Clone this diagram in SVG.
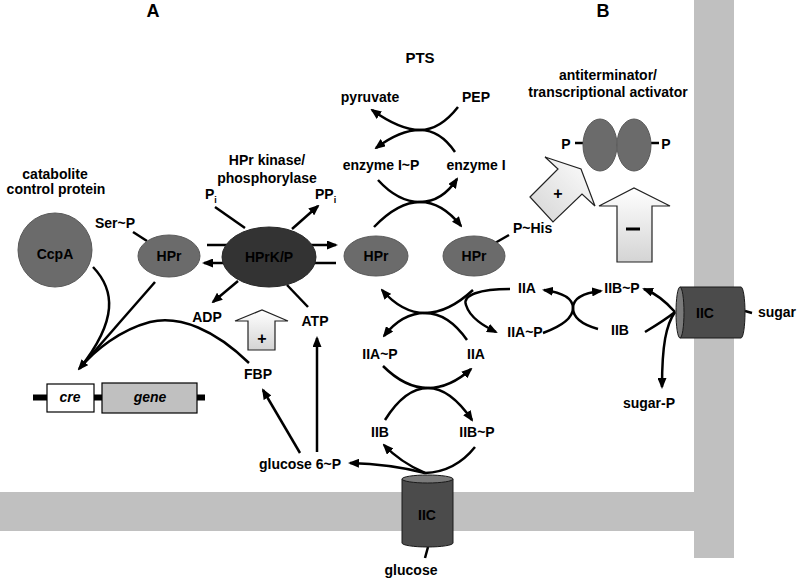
<svg xmlns="http://www.w3.org/2000/svg" width="798" height="581" viewBox="0 0 798 581">
<defs>
<style>
text{font-family:"Liberation Sans",Arial,sans-serif;font-weight:bold;font-size:14px;fill:#000}
.c{text-anchor:middle}
.big{font-size:18px}
.it{font-style:italic}
.ln{fill:none;stroke:#000;stroke-width:2.5}
.ar{marker-end:url(#arr)}
.prot{fill:#6b6b6b;stroke:#5a5a5a;stroke-width:1}
.blk{stroke:#222;stroke-width:1.2}
.cyl{fill:#4b4b4b;stroke:#1a1a1a;stroke-width:1}
.cylend{fill:#7a7a7a;stroke:#1a1a1a;stroke-width:1}
.mem{fill:#c0c0c0}
</style>
<marker id="arr" markerUnits="userSpaceOnUse" markerWidth="11" markerHeight="9" refX="9" refY="4.5" orient="auto">
<path d="M0,0 L11,4.5 L0,9 Z" fill="#000"/>
</marker>
<linearGradient id="gup" x1="0" y1="0" x2="0" y2="1">
<stop offset="0" stop-color="#ffffff"/>
<stop offset="1" stop-color="#d4d4d4"/>
</linearGradient>
<linearGradient id="gdiag" x1="1" y1="0" x2="0" y2="1">
<stop offset="0" stop-color="#ffffff"/>
<stop offset="1" stop-color="#d4d4d4"/>
</linearGradient>
</defs>
<rect x="0" y="0" width="798" height="581" fill="#fff"/>

<g id="membrane">
<rect class="mem" x="0" y="492" width="694" height="39"/>
<rect class="mem" x="694" y="0" width="40" height="558"/>
</g>

<g id="titles">
<text class="c big" x="153" y="17">A</text>
<text class="c big" x="603" y="17">B</text>
<text class="c" x="420" y="63" style="font-size:15px">PTS</text>
<text class="c" x="55" y="179">catabolite</text>
<text class="c" x="56" y="194">control protein</text>
<text class="c" x="267" y="165">HPr kinase/</text>
<text class="c" x="267" y="183">phosphorylase</text>
<text class="c" x="608" y="80">antiterminator/</text>
<text class="c" x="608" y="97">transcriptional activator</text>
</g>

<g id="connectors">
<!-- PEP / pyruvate / enzyme I -->
<path class="ln ar" d="M458,107 Q440,130 420,130 Q400,130 376,148"/>
<path class="ln ar" d="M455,152 Q440,130 420,130 Q400,130 372,110"/>
<!-- enzyme I / HPr -->
<path class="ln ar" d="M378,180 Q398,202 420,202 Q442,202 461,226"/>
<path class="ln ar" d="M374,227 Q398,202 420,202 Q442,202 457,179"/>
<!-- HPr / IIA -->
<path class="ln ar" d="M473,290 Q448,313 425,313 Q402,313 384,336"/>
<path class="ln ar" d="M467,340 Q448,313 425,313 Q402,313 382,290"/>
<!-- IIA / IIB -->
<path class="ln ar" d="M383,366 Q405,388 428,388 Q450,388 471,369"/>
<path class="ln ar" d="M385,420 Q405,388 428,388 Q450,388 472,420"/>
<!-- IIC glucose -->
<path class="ln ar" d="M425,473 Q390,464 350,463"/>
<path class="ln ar" d="M425,473 Q400,462 384,445"/>
<path class="ln" d="M475,447 Q455,472 425,473"/>
<path class="ln" d="M428,547 L425,558"/>
<!-- glucose 6~P -->
<path class="ln ar" d="M300,453 L263,390"/>
<path class="ln ar" d="M317,452 L317,338"/>
<!-- HPrK/P -->
<path class="ln ar" d="M207,245 L336,245"/>
<path class="ln ar" d="M336,263 L204,263"/>
<path class="ln" d="M215,207 L245,228"/>
<path class="ln ar" d="M292,229 L318,206"/>
<path class="ln ar" d="M238,281 L213,302"/>
<path class="ln" d="M287,285 L308,307"/>
<!-- to cre -->
<path class="ln" d="M93,267 C115,290 118,320 80,368"/>
<path class="ln ar" d="M155,282 L79,369"/>
<path class="ln" d="M249,363 C215,330 180,315 150,322 C120,330 95,350 80,368"/>
<path class="ln" d="M133,232 L147,241"/>
<!-- P~His -->
<path class="ln" d="M495,243 L509,235"/>
<!-- B part -->
<path class="ln ar" d="M510,289 C480,289 462,295 466,305 C470,318 484,326 496,332"/>
<path class="ln ar" d="M543,333 Q573,322 573,308 Q573,294 601,291"/>
<path class="ln ar" d="M598,329 Q573,322 573,308 Q573,294 544,290"/>
<path class="ln ar" d="M675,312 Q660,295 644,289"/>
<path class="ln" d="M645,332 Q665,320 675,312"/>
<path class="ln ar" d="M675,312 C666,325 662,345 662,387"/>
<path class="ln" d="M745,311 L752,313"/>
<path class="ln" d="M575,143 L583,143"/>
<path class="ln" d="M651,143 L659,143"/>
</g>

<g id="ccpa">
<circle class="prot" cx="55" cy="250" r="37"/>
<text class="c" x="55" y="259">CcpA</text>
</g>
<g id="hpr-ser">
<ellipse class="prot" cx="169" cy="256" rx="31" ry="21"/>
<text class="c" x="169" y="261">HPr</text>
<text x="95" y="228">Ser~P</text>
</g>
<g id="hprk">
<ellipse cx="269" cy="257" rx="47" ry="30" fill="#333" stroke="#2a2a2a"/>
<text class="c" x="269" y="262">HPrK/P</text>
</g>
<g id="hpr-left">
<ellipse class="prot" cx="376" cy="256" rx="32" ry="20"/>
<text class="c" x="376" y="261">HPr</text>
</g>
<g id="hpr-right">
<ellipse class="prot" cx="474" cy="256" rx="31" ry="20"/>
<text class="c" x="474" y="261">HPr</text>
<text x="513" y="233">P~His</text>
</g>
<g id="pi"><text x="205" y="199">P<tspan font-size="9" dy="4">i</tspan></text></g>
<g id="ppi"><text x="315" y="199">PP<tspan font-size="9" dy="4">i</tspan></text></g>
<g id="adp"><text class="c" x="207" y="322">ADP</text></g>
<g id="atp"><text class="c" x="315" y="326">ATP</text></g>
<g id="fbp"><text class="c" x="258" y="379">FBP</text></g>
<g id="plus-a">
<polygon class="blk" fill="url(#gup)" points="248,350 248,321 235,321 262,310 288,321 275,321 275,350"/>
<text class="c" x="262" y="344" style="font-size:16px">+</text>
</g>
<g id="gene">
<line x1="33" y1="397.5" x2="205" y2="397.5" stroke="#000" stroke-width="6"/>
<rect x="47" y="384" width="47" height="28" fill="#fff" stroke="#000" stroke-width="1.2"/>
<rect x="102" y="383" width="95" height="30" fill="#c0c0c0" stroke="#000" stroke-width="1.2"/>
<text class="c it" x="70" y="402">cre</text>
<text class="c it" x="150" y="402">gene</text>
</g>
<g id="pyruvate"><text class="c" x="370" y="102">pyruvate</text></g>
<g id="pep"><text class="c" x="476" y="102">PEP</text></g>
<g id="enzymeIP"><text class="c" x="381" y="170">enzyme I~P</text></g>
<g id="enzymeI"><text class="c" x="476" y="170">enzyme I</text></g>
<g id="iiap-a"><text class="c" x="380" y="359">IIA~P</text></g>
<g id="iia-a"><text class="c" x="476" y="359">IIA</text></g>
<g id="iib-a"><text class="c" x="380" y="437">IIB</text></g>
<g id="iibp-a"><text class="c" x="477" y="437">IIB~P</text></g>
<g id="g6p"><text class="c" x="300" y="469">glucose 6~P</text></g>
<g id="iic-glc">
<path class="cyl" d="M402,479 L402,543 A25.5,4 0 0 0 453,543 L453,479 Z"/>
<ellipse class="cylend" cx="427.5" cy="479" rx="25.5" ry="4"/>
<text class="c" x="427" y="520">IIC</text>
</g>
<g id="glucose"><text class="c" x="411" y="575">glucose</text></g>
<g id="iia-b"><text class="c" x="527" y="293">IIA</text></g>
<g id="iiap-b"><text class="c" x="525" y="337">IIA~P</text></g>
<g id="iibp-b"><text class="c" x="622" y="293">IIB~P</text></g>
<g id="iib-b"><text class="c" x="620" y="335">IIB</text></g>
<g id="iic-sugar">
<path class="cyl" d="M680,287 L741,287 A4,25.5 0 0 1 741,338 L680,338 Z"/>
<ellipse class="cylend" cx="680" cy="312.5" rx="4" ry="25.5"/>
<text class="c" x="705" y="318">IIC</text>
</g>
<g id="sugar"><text class="c" x="777" y="317">sugar</text></g>
<g id="sugarp"><text class="c" x="649" y="408">sugar-P</text></g>
<g id="antiterminator">
<ellipse class="prot" cx="600" cy="145" rx="17" ry="26"/>
<ellipse class="prot" cx="634" cy="145" rx="17" ry="26"/>
<text class="c" x="566" y="149">P</text>
<text class="c" x="666" y="149">P</text>
</g>
<g id="plus-b">
<polygon class="blk" fill="url(#gdiag)" points="530,197 558,169 545,157 581,169 595,206 582,194 553,222"/>
<text class="c" x="558" y="199" style="font-size:16px">+</text>
</g>
<g id="minus-b">
<polygon class="blk" fill="url(#gup)" points="617,262 617,206 599,206 634,188 670,206 652,206 652,262"/>
<line x1="626" y1="229" x2="640" y2="229" stroke="#000" stroke-width="3"/>
</g>
</svg>
